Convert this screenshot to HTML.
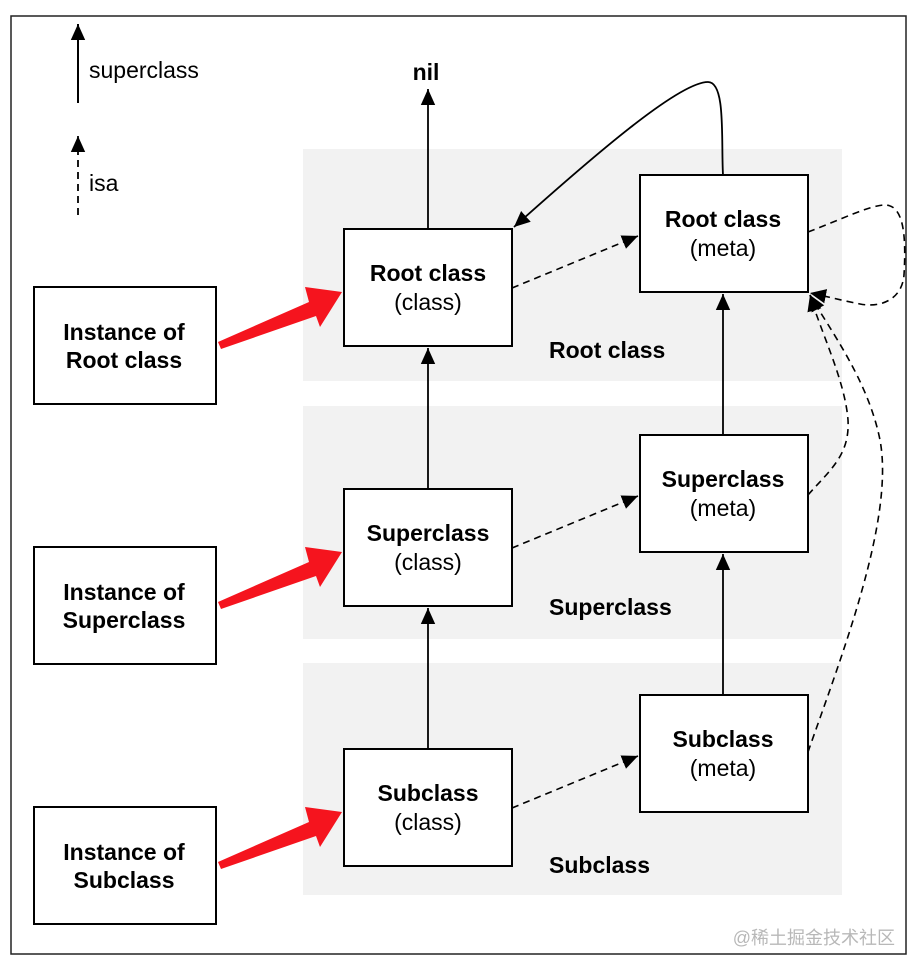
<!DOCTYPE html>
<html><head><meta charset="utf-8"><style>
html,body{margin:0;padding:0;background:#fff;}
svg{display:block;}
.b{font-family:"Liberation Sans",Arial,sans-serif;font-weight:bold;font-size:23px;fill:#000;}
.r{font-family:"Liberation Sans",Arial,sans-serif;font-size:23px;fill:#000;}
</style></head><body>
<svg width="918" height="972" viewBox="0 0 918 972" xmlns="http://www.w3.org/2000/svg">
<defs>
<marker id="ah" markerWidth="16" markerHeight="16" refX="10" refY="5" orient="auto" markerUnits="userSpaceOnUse" viewBox="0 0 10 10">
<path d="M0,0.5 L10,5 L0,9.5 z" fill="#000"/></marker>
<marker id="ahb" markerWidth="16" markerHeight="16" refX="10" refY="5" orient="auto" markerUnits="userSpaceOnUse" viewBox="0 0 10 10">
<path d="M0,0.5 L10,5 L0,9.5 z" fill="#000"/></marker>
</defs>
<rect x="11" y="16" width="895" height="938" fill="#fff" stroke="#222" stroke-width="1.5"/>
<rect x="303" y="149" width="539" height="232" fill="#f2f2f2"/>
<rect x="303" y="406" width="539" height="233" fill="#f2f2f2"/>
<rect x="303" y="663" width="539" height="232" fill="#f2f2f2"/>
<line x1="78" y1="103" x2="78" y2="24" stroke="#000" stroke-width="2" marker-end="url(#ahb)"/>
<text class="r" x="89" y="78">superclass</text>
<line x1="78" y1="215" x2="78" y2="136" stroke="#000" stroke-width="1.8" stroke-dasharray="7,5" marker-end="url(#ahb)"/>
<text class="r" x="89" y="191">isa</text>
<text class="b" x="426" y="80" text-anchor="middle">nil</text>
<line x1="428" y1="229" x2="428" y2="89" stroke="#000" stroke-width="1.8" marker-end="url(#ahb)"/>
<g fill="#fff" stroke="#000" stroke-width="2">
<rect x="34" y="287" width="182" height="117"/>
<rect x="34" y="547" width="182" height="117"/>
<rect x="34" y="807" width="182" height="117"/>
<rect x="344" y="229" width="168" height="117"/>
<rect x="344" y="489" width="168" height="117"/>
<rect x="344" y="749" width="168" height="117"/>
<rect x="640" y="175" width="168" height="117"/>
<rect x="640" y="435" width="168" height="117"/>
<rect x="640" y="695" width="168" height="117"/>
</g>
<g text-anchor="middle">
<text class="b" x="124" y="340">Instance of</text><text class="b" x="124" y="368">Root class</text>
<text class="b" x="124" y="600">Instance of</text><text class="b" x="124" y="628">Superclass</text>
<text class="b" x="124" y="860">Instance of</text><text class="b" x="124" y="888">Subclass</text>
<text class="b" x="428" y="281">Root class</text>
<text class="b" x="428" y="541">Superclass</text>
<text class="b" x="428" y="801">Subclass</text>
<text class="b" x="723" y="227">Root class</text>
<text class="b" x="723" y="487">Superclass</text>
<text class="b" x="723" y="747">Subclass</text>
<text class="r" x="428" y="310">(class)</text>
<text class="r" x="428" y="570">(class)</text>
<text class="r" x="428" y="830">(class)</text>
<text class="r" x="723" y="256">(meta)</text>
<text class="r" x="723" y="516">(meta)</text>
<text class="r" x="723" y="776">(meta)</text>
</g>
<text class="b" x="549" y="358">Root class</text>
<text class="b" x="549" y="615">Superclass</text>
<text class="b" x="549" y="873">Subclass</text>
<g stroke="#000" stroke-width="1.8" fill="none">
<line x1="428" y1="489" x2="428" y2="348" marker-end="url(#ahb)"/>
<line x1="428" y1="749" x2="428" y2="608" marker-end="url(#ahb)"/>
<line x1="723" y1="435" x2="723" y2="294" marker-end="url(#ahb)"/>
<line x1="723" y1="695" x2="723" y2="554" marker-end="url(#ahb)"/>
<path d="M723,175 C721,140 726,82 708,82 C680,82 600,150 514,227" marker-end="url(#ahb)"/>
</g>
<g stroke="#000" stroke-width="1.6" fill="none" stroke-dasharray="7,5">
<line x1="512" y1="288" x2="638" y2="236" marker-end="url(#ah)"/>
<line x1="512" y1="548" x2="638" y2="496" marker-end="url(#ah)"/>
<line x1="512" y1="808" x2="638" y2="756" marker-end="url(#ah)"/>
<path d="M808,232 C840,220 870,205 885,205 C905,205 906,240 904,275 C902,300 880,308 860,304 C840,300 825,296 810,293" marker-end="url(#ah)"/>
<path d="M808,495 C830,470 850,455 848,420 C845,380 820,330 810,295" marker-end="url(#ah)"/>
<path d="M808,752 C840,660 895,520 880,440 C868,380 830,330 810,295" marker-end="url(#ah)"/>
</g>
<g fill="#f5141e">
<polygon points="218,342 221,349 316,316 320,327 342,292 305,287 309,302"/>
<polygon points="218,602 221,609 316,576 320,587 342,552 305,547 309,562"/>
<polygon points="218,862 221,869 316,836 320,847 342,812 305,807 309,822"/>
</g>
<text x="895" y="944" text-anchor="end" style="font-family:'Liberation Sans','Noto Sans CJK SC',sans-serif;font-size:18px;fill:#b8b8b8;">@稀土掘金技术社区</text>
</svg>
</body></html>
